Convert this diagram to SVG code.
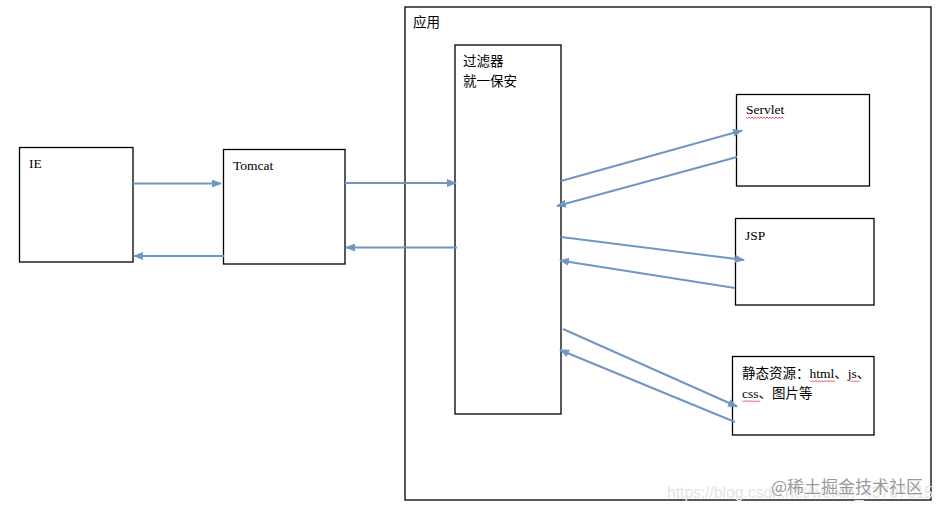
<svg xmlns="http://www.w3.org/2000/svg" width="947" height="512" viewBox="0 0 947 512">
<defs>
<marker id="ah" markerWidth="10" markerHeight="8" refX="9" refY="4" orient="auto" markerUnits="userSpaceOnUse">
<path d="M0,0 L10,4 L0,8 z" fill="#6f97c2"/>
</marker>
<style>
.box{fill:#fff;stroke:#000;stroke-width:1.3}
.lat{font-family:"Liberation Serif","Noto Sans CJK SC",serif;font-size:13.5px;fill:#000}
.cjk{font-family:"Noto Sans CJK SC","Liberation Serif",sans-serif;font-size:13.5px;fill:#000}
.c{fill:none;stroke:#6f97c2;stroke-width:2;marker-end:url(#ah)}
.sq{fill:none;stroke:#e03030;stroke-width:0.8}
</style>
</defs>
<rect width="947" height="512" fill="#fff"/>
<g id="app">
<rect class="box" x="405" y="7" width="526" height="493"/>
<text class="cjk" x="413" y="27">应用</text>
</g>
<g id="filter">
<rect class="box" x="455" y="45" width="106" height="369"/>
<text class="cjk" x="463" y="66">过滤器</text>
<text class="cjk" x="463" y="86">就一保安</text>
</g>
<g id="ie">
<rect class="box" x="19.5" y="147.5" width="113.5" height="114.5"/>
<text class="lat" x="29" y="168">IE</text>
</g>
<g id="tomcat">
<rect class="box" x="223.5" y="149.5" width="121.5" height="114.5"/>
<text class="lat" x="233" y="170">Tomcat</text>
</g>
<g id="servlet">
<rect class="box" x="736.5" y="94.5" width="133" height="91.5"/>
<text class="lat" x="746" y="114">Servlet</text>
<path class="sq" d="M746,117 l1.5,1.5 l1.5,-1.5 l1.5,1.5 l1.5,-1.5 l1.5,1.5 l1.5,-1.5 l1.5,1.5 l1.5,-1.5 l1.5,1.5 l1.5,-1.5 l1.5,1.5 l1.5,-1.5 l1.5,1.5 l1.5,-1.5 l1.5,1.5 l1.5,-1.5 l1.5,1.5 l1.5,-1.5 l1.5,1.5 l1.5,-1.5 l1.5,1.5 l1.5,-1.5 l1.5,1.5 l1.5,-1.5 l1.5,1.5"/>
</g>
<g id="jsp">
<rect class="box" x="735.5" y="218.5" width="138.5" height="86.5"/>
<text class="lat" x="745" y="240">JSP</text>
</g>
<g id="static">
<rect class="box" x="732.5" y="356.5" width="141.5" height="78.5"/>
<text x="742" y="378"><tspan class="cjk">静态资源：</tspan><tspan class="lat">html</tspan><tspan class="cjk">、</tspan><tspan class="lat">js</tspan><tspan class="cjk">、</tspan></text>
<text x="742" y="398"><tspan class="lat">css</tspan><tspan class="cjk">、图片等</tspan></text>
<path class="sq" d="M810,380.5 l1.5,1.5 l1.5,-1.5 l1.5,1.5 l1.5,-1.5 l1.5,1.5 l1.5,-1.5 l1.5,1.5 l1.5,-1.5 l1.5,1.5 l1.5,-1.5 l1.5,1.5 l1.5,-1.5 l1.5,1.5 l1.5,-1.5 l1.5,1.5 l1.5,-1.5 l1.5,1.5"/>
<path class="sq" d="M850,380.5 l1.5,1.5 l1.5,-1.5 l1.5,1.5 l1.5,-1.5 l1.5,1.5 l1.5,-1.5"/>
<path class="sq" d="M742,400.5 l1.5,1.5 l1.5,-1.5 l1.5,1.5 l1.5,-1.5 l1.5,1.5 l1.5,-1.5 l1.5,1.5 l1.5,-1.5 l1.5,1.5 l1.5,-1.5 l1.5,1.5 l1.5,-1.5"/>
</g>
<g id="connectors">
<line class="c" x1="133" y1="183.5" x2="221" y2="183.5"/>
<line class="c" x1="224" y1="256" x2="134" y2="256"/>
<line class="c" x1="345" y1="183" x2="456" y2="183"/>
<line class="c" x1="457" y1="247.5" x2="346" y2="247.5"/>
<line class="c" x1="561" y1="181" x2="742" y2="130.5"/>
<line class="c" x1="737" y1="157" x2="557" y2="206"/>
<line class="c" x1="561" y1="237" x2="744" y2="260"/>
<line class="c" x1="735" y1="288" x2="560" y2="260.5"/>
<line class="c" x1="563" y1="329" x2="737" y2="406.5"/>
<line class="c" x1="735" y1="422" x2="560" y2="350"/>
</g>
<g id="watermark">
<text x="667" y="498" textLength="266" lengthAdjust="spacingAndGlyphs" style="font-family:'Liberation Sans',sans-serif;font-size:17px;fill:#e4e4e4">https://blog.csdn.net/weixin_43707015</text>
<text x="771" y="493" style="font-family:'Noto Sans CJK SC',sans-serif;font-size:17px;fill:#9a9a9a;stroke:#fff;stroke-width:0.6;paint-order:stroke">@稀土掘金技术社区</text>
</g>
</svg>
